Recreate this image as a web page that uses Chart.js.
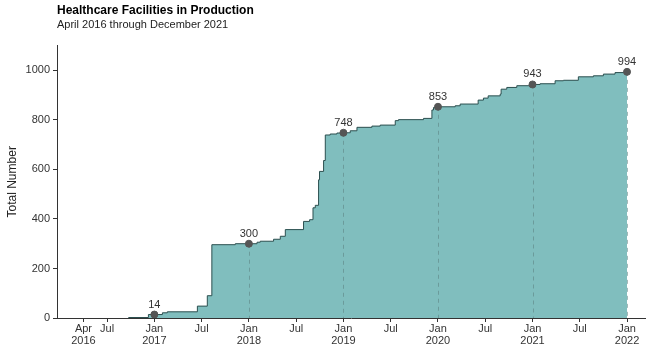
<!DOCTYPE html>
<html>
<head>
<meta charset="utf-8">
<script src="https://cdn.jsdelivr.net/npm/chart.js@4"></script>
<style>
  html, body { margin: 0; padding: 0; background: #fff; }
  #wrap { width: 650px; height: 347px; }
</style>
</head>
<body>
<div id="wrap"><canvas id="facilitiesChart"></canvas></div>
<script>
// cumulative count of facilities, x as decimal year, value holds from that date on
const dates = [2016.725, 2016.937, 2017.085, 2017.137, 2017.455, 2017.56, 2017.608, 2017.856,
  2018.086, 2018.12, 2018.261, 2018.332, 2018.385, 2018.578, 2018.642, 2018.678, 2018.702, 2018.737,
  2018.747, 2018.79, 2018.808, 2018.86, 2018.931, 2019.0, 2019.072, 2019.143, 2019.301, 2019.389,
  2019.548, 2019.582, 2019.847, 2019.936, 2019.953, 2020.0, 2020.182, 2020.235, 2020.425, 2020.481,
  2020.531, 2020.658, 2020.668, 2020.728, 2020.834, 2021.0, 2021.08, 2021.239, 2021.327, 2021.485,
  2021.644, 2021.75, 2021.873, 2022.0];
const totals = [2, 14, 21, 25, 48, 90, 296, 300,
  306, 310, 318, 330, 357, 390, 397, 445, 455, 558,
  592, 636, 739, 743, 747, 748, 756, 770, 775, 779,
  797, 801, 806, 840, 850, 853, 857, 864, 880, 888,
  897, 904, 924, 931, 938, 943, 946, 958, 960, 974,
  978, 985, 991, 994];

// yearly markers with their labels
const markDates = [2017, 2018, 2019, 2020, 2021, 2022];
const markTotals = [14, 300, 748, 853, 943, 994];

// x axis ticks
const tickValues = [2016.25, 2016.5, 2017, 2017.5, 2018, 2018.5, 2019, 2019.5, 2020, 2020.5, 2021, 2021.5, 2022];
const tickLabels = [['Apr', '2016'], 'Jul', ['Jan', '2017'], 'Jul', ['Jan', '2018'], 'Jul', ['Jan', '2019'], 'Jul',
  ['Jan', '2020'], 'Jul', ['Jan', '2021'], 'Jul', ['Jan', '2022']];

const yTicks = [0, 200, 400, 600, 800, 1000];

const FONT = '"Liberation Sans", Arial, sans-serif';

// dashed drop lines under each marker and the value labels above them
const markerDecor = {
  id: 'markerDecor',
  afterDatasetDraw(chart, args) {
    const ctx = chart.ctx;
    const xs = chart.scales.x, ys = chart.scales.y;
    if (args.index === 0) {
      ctx.save();
      ctx.strokeStyle = 'rgba(90,125,125,0.55)';
      ctx.lineWidth = 1;
      ctx.setLineDash([4, 4]);
      markDates.forEach((d, i) => {
        const px = Math.round(xs.getPixelForValue(d)) + 0.5;
        ctx.beginPath();
        ctx.moveTo(px, ys.getPixelForValue(markTotals[i]));
        ctx.lineTo(px, ys.getPixelForValue(0));
        ctx.stroke();
      });
      ctx.restore();
    }
    if (args.index === 1) {
      ctx.save();
      ctx.fillStyle = '#333';
      ctx.font = '11px ' + FONT;
      ctx.textAlign = 'center';
      ctx.textBaseline = 'alphabetic';
      markDates.forEach((d, i) => {
        ctx.fillText(String(markTotals[i]), xs.getPixelForValue(d), ys.getPixelForValue(markTotals[i]) - 7);
      });
      ctx.restore();
    }
  }
};

const config = {
  type: 'line',
  data: {
    datasets: [{
      label: 'Total',
      data: dates.map((d, i) => ({ x: d, y: totals[i] })),
      stepped: true,
      fill: 'origin',
      backgroundColor: '#80bebe',
      borderColor: '#2b4f4f',
      borderWidth: 1,
      pointRadius: 0,
      order: 1
    }, {
      label: 'Yearly',
      data: markDates.map((d, i) => ({ x: d, y: markTotals[i] })),
      showLine: false,
      pointRadius: 3.5,
      pointBackgroundColor: '#555',
      pointBorderColor: '#555',
      order: 0
    }]
  },
  options: {
    responsive: false,
    animation: false,
    layout: { padding: { left: 0, right: 5, top: 3, bottom: 0 } },
    plugins: {
      legend: { display: false },
      tooltip: { enabled: false },
      title: {
        display: true,
        text: 'Healthcare Facilities in Production',
        align: 'start',
        fullSize: false,
        color: '#000',
        font: { family: FONT, size: 12, weight: 'bold' },
        padding: { top: 0, bottom: 1 }
      },
      subtitle: {
        display: true,
        text: 'April 2016 through December 2021',
        align: 'start',
        fullSize: false,
        color: '#222',
        font: { family: FONT, size: 11 },
        padding: { top: 0, bottom: 14 }
      }
    },
    scales: {
      x: {
        type: 'linear',
        min: 2015.97,
        max: 2022.19,
        afterBuildTicks: (scale) => { scale.ticks = tickValues.map(v => ({ value: v })); },
        afterFit: (scale) => { scale.height = 29; },
        grid: { display: true, drawOnChartArea: false, drawTicks: true, tickLength: 4, color: '#333' },
        border: { display: true, color: '#333', width: 1 },
        ticks: {
          autoSkip: false,
          maxRotation: 0,
          padding: 1,
          color: '#333',
          font: { family: FONT, size: 11, lineHeight: 1.1 },
          callback: (v) => {
            const i = tickValues.indexOf(v);
            return i >= 0 ? tickLabels[i] : '';
          }
        }
      },
      y: {
        min: 0,
        max: 1100,
        afterBuildTicks: (scale) => { scale.ticks = yTicks.map(v => ({ value: v })); },
        afterFit: (scale) => { scale.width = 57; },
        grid: { display: true, drawOnChartArea: false, drawTicks: true, tickLength: 4, color: '#333' },
        border: { display: true, color: '#333', width: 1 },
        title: {
          display: true,
          text: 'Total Number',
          color: '#222',
          font: { family: FONT, size: 12 },
          padding: { top: 5, bottom: 0 }
        },
        ticks: {
          padding: 3,
          color: '#333',
          font: { family: FONT, size: 11 },
          callback: (v) => String(v)
        }
      }
    }
  },
  plugins: [markerDecor]
};

const canvas = document.getElementById('facilitiesChart');
canvas.width = 650;
canvas.height = 347;
let facilitiesChart = new Chart(canvas, config);
</script>
</body>
</html>
